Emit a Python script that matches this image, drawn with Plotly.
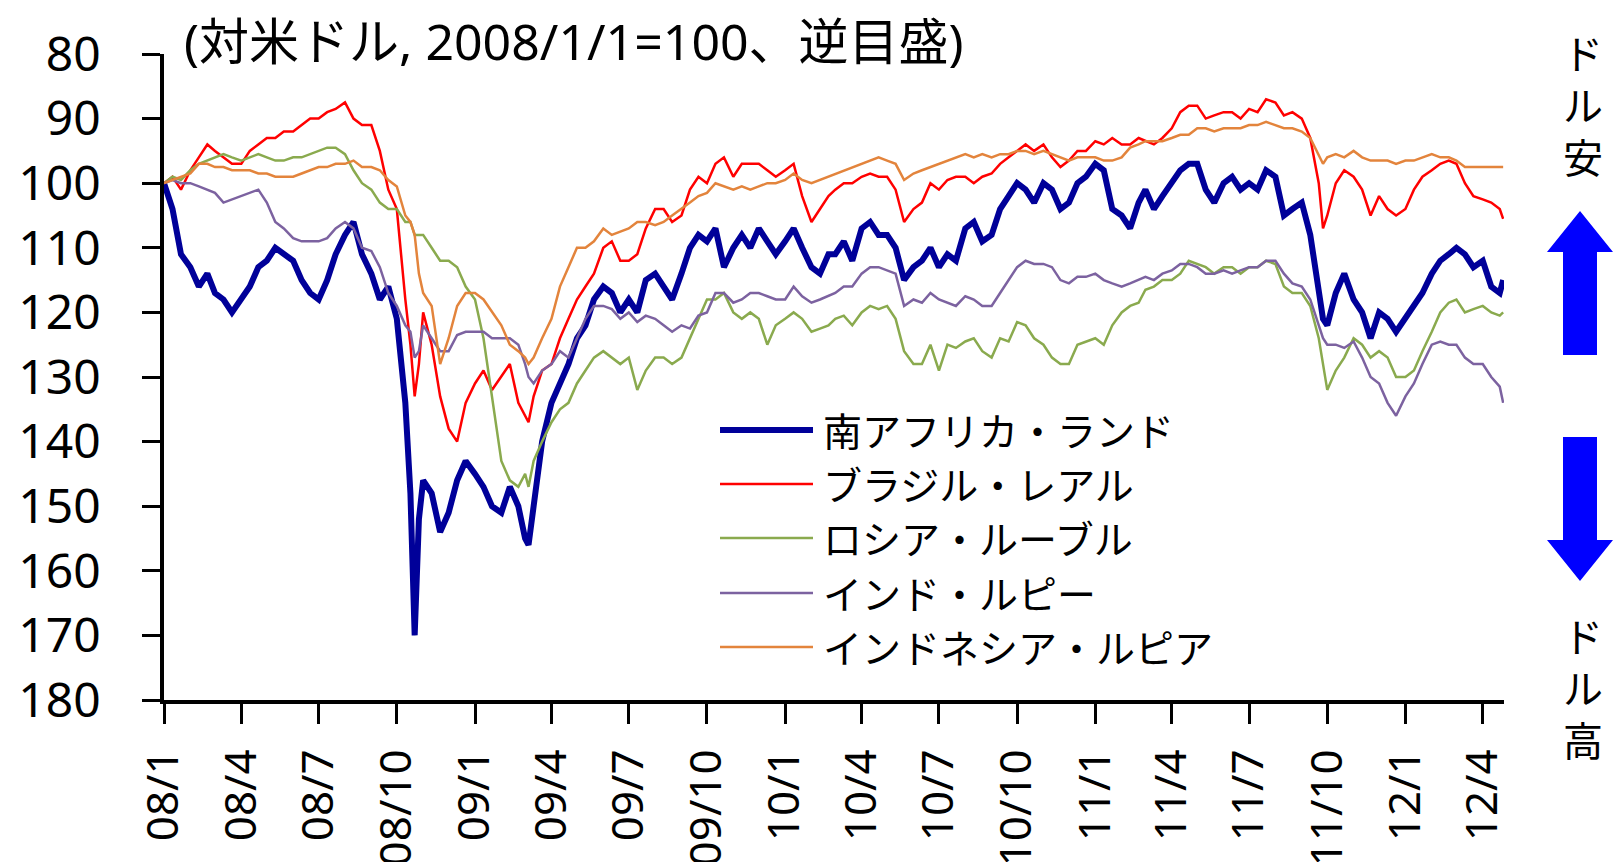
import plotly.graph_objects as go

# ---------------- data ----------------
# sample dates: 1st / 11th / 21st of each month, with a few extra dates at turning points
extra_days = {(2008, 10): [1, 11, 17, 22, 27], (2009, 3): [1, 5, 11, 21],
              (2011, 9): [1, 11, 21, 26], (2012, 4): [1, 11, 21, 25]}
dates = []
for yr in range(2008, 2013):
    for mo in range(1, 13):
        if yr == 2012 and mo > 4:
            break
        for d in extra_days.get((yr, mo), [1, 11, 21]):
            dates.append(f"{yr}-{mo:02d}-{d:02d}")

zar_2008 = [100, 104, 111, 113, 116, 114, 117, 118, 120, 118, 116, 113, 112, 110, 111, 112, 115, 117,
            118, 115, 111, 108, 106, 111, 114, 118, 116, 121, 134, 148, 170, 152, 146, 148, 154, 151, 146, 143]
zar_2009 = [145, 147, 150, 151, 147, 150, 155, 156, 150, 140, 134, 131, 128, 124, 122, 118, 116, 117, 120,
            118, 120, 115, 114, 116, 118, 114, 110, 108, 109, 107, 113, 110, 108, 110, 107, 109, 111]
zar_2010 = [109, 107, 110, 113, 114, 111, 111, 109, 112, 107, 106, 108, 108, 110, 115, 113, 112, 110,
            113, 111, 112, 107, 106, 109, 108, 104, 102, 100, 101, 103, 100, 101, 104, 103, 100, 99]
zar_2011 = [97, 98, 104, 105, 107, 103, 101, 104, 102, 100, 98, 97, 97, 101, 103, 100, 99, 101,
            100, 101, 98, 99, 105, 104, 103, 108, 116, 121, 122, 117, 114, 118, 120, 124, 120, 121, 123]
zar_2012 = [121, 119, 117, 114, 112, 111, 110, 111, 113, 112, 116, 117, 115]

brl_2008 = [100, 99, 101, 98, 96, 94, 95, 96, 97, 97, 95, 94, 93, 93, 92, 92, 91, 90,
            90, 89, 88.5, 87.5, 90, 91, 91, 95, 101, 104, 118, 125, 133, 128, 120, 125, 133, 138, 140, 134]
brl_2009 = [131, 129, 132, 130, 128, 134, 136, 137, 133, 129, 128, 124, 121, 118, 116, 114, 110, 109, 112,
            112, 111, 107, 104, 104, 106, 105, 101, 99, 100, 97, 96, 99, 97, 97, 97, 98, 99]
brl_2010 = [98, 97, 102, 106, 104, 102, 101, 100, 100, 99, 98.5, 99, 99, 101, 106, 104, 103, 100,
            101, 99.5, 99, 99, 100, 99, 98.5, 97, 96, 95, 94, 95, 94, 96, 97.5, 96.5, 95, 95]
brl_2011 = [93.5, 94, 93, 94, 94, 93, 93.5, 94, 93, 91.5, 89, 88, 88, 90, 89.5, 89, 89, 90,
            88.5, 89, 87, 87.5, 89.5, 89, 90, 93, 100, 107, 105, 100, 98, 99, 101, 105, 102, 104, 105]
brl_2012 = [104, 101, 99, 98, 97, 96.5, 97, 100, 102, 102.5, 103, 104, 105.5]

rub_2008 = [100, 99, 99.5, 98, 97, 96.5, 96, 95.5, 96, 96.5, 96, 95.5, 96, 96.5, 96.5, 96, 96, 95.5,
            95, 94.5, 94.5, 95.5, 98, 100, 101, 103, 104, 104, 106, 106, 108, 108, 108, 110, 112, 112, 113, 116]
rub_2009 = [118, 124, 133, 143, 146, 147, 145, 147, 143, 140, 137, 135, 134, 131, 129, 127, 126, 127, 128,
            127, 132, 129, 127, 127, 128, 127, 124, 121, 118, 118, 117, 120, 121, 120, 121, 125, 122]
rub_2010 = [121, 120, 121, 123, 122.5, 122, 121, 120.5, 122, 120, 119, 119.5, 119, 121, 126, 128, 128, 125,
            129, 125, 125.5, 124.5, 124, 126, 127, 124, 124.5, 121.5, 122, 124, 125, 127, 128, 128, 125, 124.5]
rub_2011 = [124, 125, 122, 120, 119, 118.5, 116.5, 116, 115, 115, 114, 112, 112.5, 113, 114, 113, 113, 114,
            113, 113, 112, 112.5, 116, 117, 117, 119, 124, 128, 132, 129, 127, 124, 125, 127, 126, 127, 130]
rub_2012 = [130, 129, 126, 123, 120, 118.5, 118, 120, 119.5, 119, 120, 120.5, 120]

inr_2008 = [100, 99.5, 100, 100, 100.5, 101, 101.5, 103, 102.5, 102, 101.5, 101, 103, 106, 107, 108.5, 109, 109,
            109, 108.5, 107, 106, 107, 110, 110.5, 113, 117, 119, 122, 123, 127, 126, 122, 124, 126, 126, 123.5, 123]
inr_2009 = [123, 123, 124, 124, 124, 125, 128, 130, 131, 129, 128, 126, 127, 124, 121, 119, 119, 119.5, 121,
            120, 121.5, 120.5, 121, 122, 123, 122, 122.5, 120.5, 120, 117, 117, 118.5, 118, 117, 117, 117.5, 118]
inr_2010 = [118, 116, 117.5, 118.5, 118, 117.5, 117, 116, 116, 114, 113, 113, 113.5, 114, 119, 118, 118.5, 117,
            118, 118.5, 119, 117.5, 118, 119, 119, 117, 115, 113, 112, 112.5, 112.5, 113, 115, 115.5, 114.5, 114.5]
inr_2011 = [114, 115, 115.5, 116, 115.5, 115, 114.5, 115, 114, 113.5, 112.5, 112.5, 113, 114, 114, 113.5, 114, 113.5,
            113, 113, 112, 112, 114, 115.5, 116, 118, 122, 124, 125, 125, 125.5, 124.5, 127, 130, 131, 134, 136]
inr_2012 = [133, 131, 128, 125, 124.5, 125, 125, 127, 128, 128, 130, 131.5, 134]

idr_2008 = [100, 99.5, 99, 98.5, 97, 97, 97.5, 97.5, 98, 98, 98, 98.5, 98.5, 99, 99, 99, 98.5, 98,
            97.5, 97.5, 97, 97, 96.5, 97.5, 97.5, 98, 99.5, 100.5, 105, 106, 108, 114, 117, 119, 128, 124, 119, 117]
idr_2009 = [117, 118, 120, 122, 125, 126, 127, 128, 127, 124, 121, 116, 113, 110, 110, 109, 107, 108, 107.5,
            107, 106, 106, 106.5, 106, 105, 104, 103, 102, 101.5, 100, 100.5, 101, 100.5, 101, 100.5, 100, 100]
idr_2010 = [99.5, 98.5, 99.5, 100, 99.5, 99, 98.5, 98, 97.5, 97, 96.5, 96, 96.5, 97, 99.5, 98.5, 98, 97.5,
            97, 96.5, 96, 95.5, 96, 95.5, 96, 95.5, 95.5, 95, 95, 95.5, 95, 95.5, 96, 96.5, 96, 96]
idr_2011 = [96, 96.5, 96.5, 96, 94.5, 94, 93.5, 93.5, 93.5, 93, 92.5, 92.5, 91.5, 91.5, 92, 91.5, 91.5, 91.5,
            91, 91, 90.5, 91, 91.5, 91.5, 92, 93, 95.5, 97, 96, 95.5, 96, 95, 96, 96.5, 96.5, 96.5, 97]
idr_2012 = [96.5, 96.5, 96, 95.5, 96, 96, 96.5, 97.5, 97.5, 97.5, 97.5, 97.5, 97.5]

zar = zar_2008 + zar_2009 + zar_2010 + zar_2011 + zar_2012
brl = brl_2008 + brl_2009 + brl_2010 + brl_2011 + brl_2012
rub = rub_2008 + rub_2009 + rub_2010 + rub_2011 + rub_2012
inr = inr_2008 + inr_2009 + inr_2010 + inr_2011 + inr_2012
idr = idr_2008 + idr_2009 + idr_2010 + idr_2011 + idr_2012

series_names = ["南アフリカ・ランド", "ブラジル・レアル", "ロシア・ルーブル", "インド・ルピー", "インドネシア・ルピア"]
series_values = [zar, brl, rub, inr, idr]
series_colors = ["#000099", "#FF0000", "#8AAA4E", "#7C62A0", "#E3843C"]
series_widths = [6, 2.5, 2.5, 2.5, 2.5]

y_ticks = [80, 90, 100, 110, 120, 130, 140, 150, 160, 170, 180]
x_tick_vals = []
x_tick_text = []
for yr in range(2008, 2013):
    for mo in (1, 4, 7, 10):
        if yr == 2012 and mo > 4:
            break
        x_tick_vals.append(f"{yr}-{mo:02d}-01")
        x_tick_text.append(f"{yr % 100:02d}/{mo}")

title_text = "(対米ドル, 2008/1/1=100、逆目盛)"
up_label = "ドル安"
down_label = "ドル高"

# ---------------- layout geometry (pixels) ----------------
W, H = 1613, 862
PL, PR, PT, PB = 164, 1504, 54, 700
FONT = "Noto Sans, Noto Sans CJK JP, sans-serif"


def fx(px):
    return (px - PL) / (PR - PL)


def fy(py):
    return (PB - py) / (PB - PT)


fig = go.Figure()
for name, vals, col, wd in zip(series_names, series_values, series_colors, series_widths):
    fig.add_trace(go.Scatter(x=dates, y=vals, mode="lines", name=name,
                             line=dict(color=col, width=wd), showlegend=False))

shapes = []
annotations = []

# custom legend
legend_rows = [430, 484, 538, 593, 647]
for name, col, wd, ry in zip(series_names, series_colors, series_widths, legend_rows):
    shapes.append(dict(type="line", xref="paper", yref="paper",
                       x0=fx(720), x1=fx(813), y0=fy(ry), y1=fy(ry),
                       line=dict(color=col, width=wd)))
    annotations.append(dict(text=name, xref="paper", yref="paper", x=fx(821), y=fy(ry),
                            xanchor="left", yanchor="middle", showarrow=False,
                            font=dict(family=FONT, size=39, color="black")))

# title
annotations.append(dict(text=title_text, xref="paper", yref="paper", x=fx(182), y=fy(41),
                        xanchor="left", yanchor="middle", showarrow=False,
                        font=dict(family=FONT, size=50, color="black")))

# arrows on the right
cx, hw, sw = 1580, 33, 17


def arrow_path(tip, head, end):
    pts = [(cx, tip), (cx + hw, head), (cx + sw, head), (cx + sw, end),
           (cx - sw, end), (cx - sw, head), (cx - hw, head)]
    return "M " + " L ".join(f"{fx(a):.5f},{fy(b):.5f}" for a, b in pts) + " Z"


shapes.append(dict(type="path", xref="paper", yref="paper", path=arrow_path(211, 252, 355),
                   fillcolor="#0000FF", line=dict(width=0)))
shapes.append(dict(type="path", xref="paper", yref="paper", path=arrow_path(581, 540, 437),
                   fillcolor="#0000FF", line=dict(width=0)))

# vertical labels (one text each, stacked characters)
for chars, yc in ((up_label, 105), (down_label, 688)):
    annotations.append(dict(text="<br>".join(chars), xref="paper", yref="paper",
                            x=fx(1583), y=fy(yc), xanchor="center", yanchor="middle",
                            showarrow=False, align="center",
                            font=dict(family=FONT, size=40, color="black")))

fig.update_layout(
    width=W, height=H,
    margin=dict(l=PL, r=W - PR, t=PT, b=H - PB, pad=0, autoexpand=False),
    paper_bgcolor="white", plot_bgcolor="white",
    shapes=shapes, annotations=annotations,
    showlegend=False,
    xaxis=dict(type="date", range=["2008-01-01", "2012-04-26"], automargin=False,
               tickmode="array", tickvals=x_tick_vals, ticktext=x_tick_text,
               tickangle=-90, ticks="outside", ticklen=20, tickwidth=3, tickcolor="black",
               showline=True, linewidth=3.5, linecolor="black", showgrid=False, zeroline=False,
               ticklabelstandoff=8,
               tickfont=dict(family=FONT, size=44, color="black")),
    yaxis=dict(range=[180, 80], tickmode="array", tickvals=y_ticks, automargin=False,
               ticks="outside", ticklen=18, tickwidth=3, tickcolor="black",
               showline=True, linewidth=3.5, linecolor="black", showgrid=False, zeroline=False,
               ticklabelstandoff=32,
               tickfont=dict(family=FONT, size=48, color="black")),
)

fig.write_html("out.html", config={"displayModeBar": False},
               post_script="document.body.style.margin='0px';")
